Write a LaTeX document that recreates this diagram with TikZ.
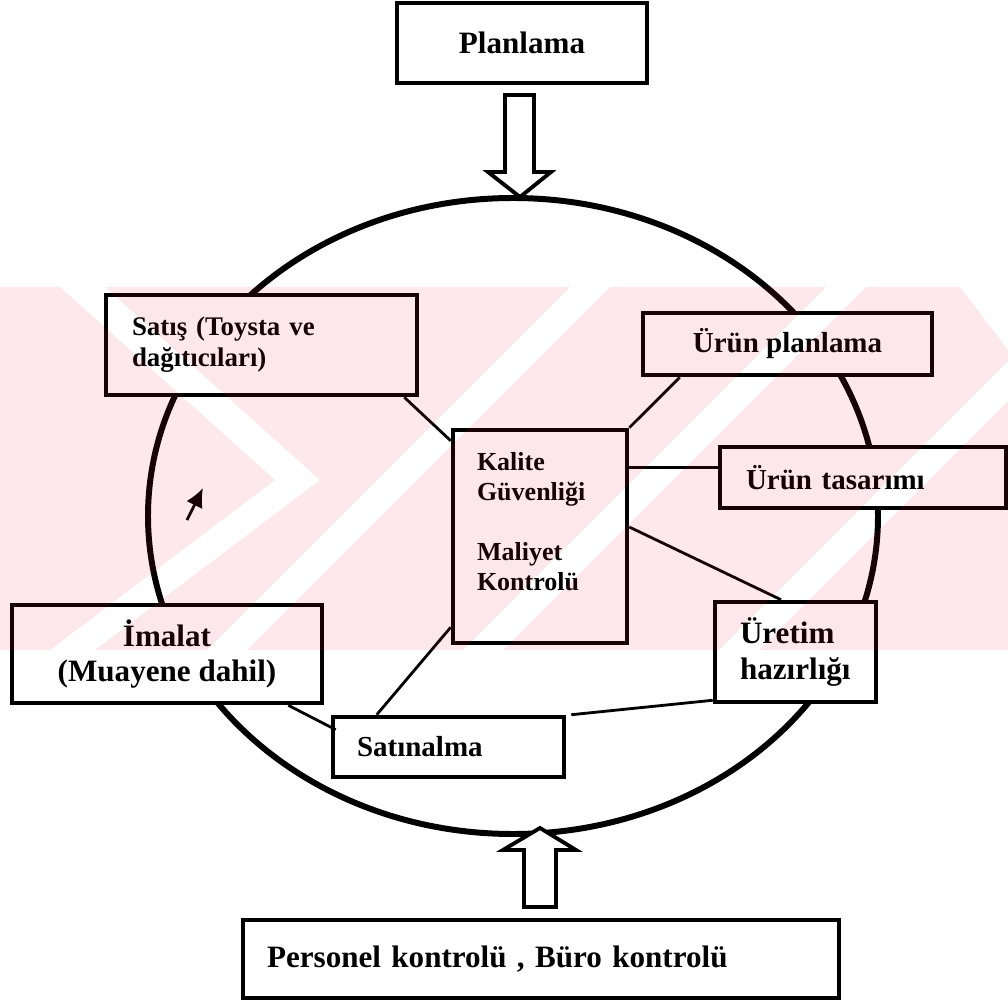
\documentclass[tikz,border=0pt]{standalone}
\usepackage{fontspec}
\setmainfont{Liberation Serif}
\usetikzlibrary{arrows.meta}
\definecolor{wmpink}{RGB}{235,30,60}

\begin{document}
\begin{tikzpicture}[x=0.02cm, y=-0.02cm,
    box/.style={draw, line width=2.6pt, fill=white, inner sep=0pt},
    tbig/.style={font=\bfseries\fontsize{17.7}{20.4}\selectfont},
    tmid/.style={font=\bfseries\fontsize{16.5}{19}\selectfont},
    tsmall/.style={font=\bfseries\fontsize{15.3}{17.6}\selectfont},
    tkal/.style={font=\bfseries\fontsize{14.8}{17}\selectfont},
    ring/.style={line width=3.4pt},
    link/.style={line width=1.6pt},
    hollow/.style={draw, line width=2.2pt, fill=white, line join=miter},
    wmark/.style={fill=wmpink, opacity=0.1}]
  \useasboundingbox (0,0) rectangle (1008,1000);

  % the cycle
  \draw[ring] (513,516) ellipse [x radius=365, y radius=318];

  \node[box, tbig, minimum width=5cm, minimum height=1.6cm](planlama) at (522,43) {Planlama};
  \node[box, tsmall, align=left, text width=5.18cm, inner xsep=0.52cm, minimum height=2cm](satis) at (261.5,345) {Satış (Toysta ve\\dağıtıcıları)};
  \node[box, tmid, minimum width=5.78cm, minimum height=1.24cm](urunplan) at (787.5,344) {Ürün planlama};
  \node[box, tkal, align=left, text width=2.52cm, inner xsep=0.48cm, minimum height=4.26cm](kalite) at (540,536.5) {Kalite\\Güvenliği\\[17pt]Maliyet\\Kontrolü\\\mbox{}};
  \node[box, tmid, align=left, text width=4.68cm, inner xsep=0.52cm, minimum height=1.22cm](urtas) at (863,477.5) {Ürün tasarımı};
  \node[box, tbig, align=left, text width=2.22cm, inner xsep=0.5cm, minimum height=2cm](uretim) at (795.5,652) {Üretim\\hazırlığı};
  \node[box, tbig, align=center, minimum width=6.2cm, minimum height=1.96cm](imalat) at (167,654) {İmalat\\(Muayene dahil)};
  \node[box, tmid, align=left, text width=3.66cm, inner xsep=0.48cm, minimum height=1.2cm](satinalma) at (448.5,747) {Satınalma};
  \node[box, tbig, align=left, text width=10.96cm, inner xsep=0.48cm, minimum height=1.56cm](personel) at (541,959) {Personel kontrolü , Büro kontrolü};

  \path[link]
  ([xshift=-0.3cm]satis.south east)   edge ([yshift=-0.26cm]kalite.north west)
  ([xshift=0.78cm]urunplan.south west) edge (kalite.north east)
  (urtas.176)                         edge (kalite.east |- urtas.176)
  ([yshift=0.19cm]kalite.east)        edge ([xshift=-0.29cm]uretim.north)
  ([yshift=0.36cm]kalite.south west)  edge ([xshift=0.92cm]satinalma.north west)
  ([xshift=-0.72cm]imalat.south east) edge ([xshift=0.1cm, yshift=-0.3cm]satinalma.north west)
  ([xshift=0.1cm]satinalma.north east) edge ([yshift=0.08cm]uretim.south west);

  % direction mark
  \coordinate (dirtail) at (187,520);
  \coordinate (dirtip) at (203,488);
  \draw[link, -{Latex[length=0.38cm, width=0.36cm]}] (dirtail) -- (dirtip);

  % block arrows
  \coordinate (toptip) at (520,197);
  \coordinate (bottip) at (540,828);
  \draw[hollow] (toptip) -- ++(-32,-25) -- ++(17,0) -- ++(0,-77) -- ++(29,0) -- ++(0,77) -- ++(17,0) -- cycle;
  \draw[hollow] (bottip) -- ++(-37,22) -- ++(21,0) -- ++(0,57) -- ++(32,0) -- ++(0,-57) -- ++(20,0) -- cycle;

  % watermark
  \begin{scope}
    \clip (0,287) rectangle (1008,650);
    \fill[wmark, even odd rule] (0,287) rectangle (1008,650)
      (60,287) -- (105,287) -- (320,480) -- (95,650) -- (50,650) -- (275,480) -- cycle
      (207,650) -- (247,650) -- (610,287) -- (570,287) -- cycle
      (463,650) -- (503,650) -- (866,287) -- (826,287) -- cycle
      (719,650) -- (759,650) -- (1122,287) -- (1082,287) -- cycle
      (960,287) -- (1008,287) -- (1008,350) -- cycle;
  \end{scope}
\end{tikzpicture}
\end{document}
